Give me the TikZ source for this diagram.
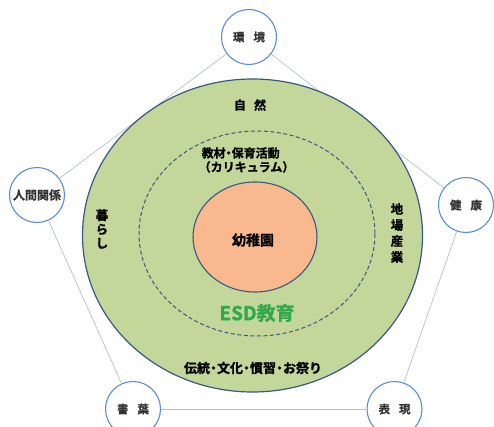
\documentclass[tikz,border=0pt]{standalone}
\usepackage{fontspec}
\setmainfont{Noto Sans CJK JP}
\newfontfamily\jpheavy{Noto Sans CJK JP Bold}[FakeBold=1.2]
\newfontfamily\jpbold{Noto Sans CJK JP Bold}[FakeBold=0.8]
\usetikzlibrary{shapes.geometric}
\definecolor{ringgreen}{HTML}{C4D79B}
\definecolor{ringedge}{HTML}{3B5783}
\definecolor{coreorange}{HTML}{F8B98E}
\definecolor{bubbleblue}{HTML}{5B8FD3}
\definecolor{linkgray}{HTML}{B4BFD2}
\definecolor{esdgreen}{HTML}{2FAA4B}
\definecolor{labelgray}{HTML}{333333}
\tikzset{
  bubble/.style={circle, draw=bubbleblue, line width=1.1pt, fill=white,
    minimum size=55pt, inner sep=0pt, font=\jpbold\fontsize{11.5}{13}\selectfont, text=labelgray},
  link/.style={draw=linkgray, line width=0.7pt},
  ringtext/.style={font=\jpheavy\fontsize{12}{15}\selectfont, text=black, inner sep=0pt},
}
\begin{document}
\begin{tikzpicture}[x=1pt,y=-1pt]
\useasboundingbox (0,0) rectangle (494,427);
\clip (0,0) rectangle (494,427);
% pentagon bubbles
\node[bubble] (kankyo) at (249,37) {環\hspace{9pt}境};
\node[bubble] (ningen) at (37,195) {\fontsize{12}{13}\selectfont 人間関係};
\node[bubble] (kenko) at (466,205) {健\hspace{9pt}康};
\node[bubble] (kotoba) at (133,409) {書\hspace{9pt}葉};
\node[bubble] (hyogen) at (394.5,409) {表\hspace{9pt}現};
\path[link] (kankyo) -- (ningen);
\path[link] (kankyo) -- (kenko);
\path[link] (ningen) -- (kotoba);
\path[link] (kenko) -- (hyogen);
\path[link] (kotoba) -- (hyogen);
% rings
\node[ellipse, draw=ringedge, line width=1.2pt, fill=ringgreen, minimum width=340pt, minimum height=313pt, inner sep=0pt] (outer) at (252.5,235.5) {};
\node[ellipse, draw=ringedge, dashed, dash pattern=on 4pt off 2.5pt, line width=1pt, minimum width=236pt, minimum height=205pt, inner sep=0pt] (inner) at (257,233.5) {};
\node[ellipse, draw=ringedge, line width=1.1pt, fill=coreorange, minimum width=124pt, minimum height=110pt, inner sep=0pt] (core) at (255,237) {};
% texts
\node[ringtext, font=\jpheavy\fontsize{14}{16}\selectfont] (yochien) at (253,240) {幼稚園};
\node[ringtext] (shizen) at (250,105) {自\hspace{8pt}然};
\node[ringtext, align=left] (kyozai) at (248,160) {教材\kern-3pt・\kern-3pt保育活動\\[-1pt]\hspace{-3pt}（カリキュラム）};
\node[ringtext, font=\jpheavy\fontsize{19}{21}\selectfont, text=esdgreen] (esd) at (257,313) {ESD教育};
\node[ringtext, font=\jpheavy\fontsize{13}{15}\selectfont] (dento) at (253,368) {伝統\kern-3pt・\kern-3pt文化\kern-3pt・\kern-3pt慣習\kern-3pt・\kern-3ptお祭り};
\node[ringtext, align=center, font=\jpheavy\fontsize{12.5}{14}\selectfont] (kurashi) at (102,229) {暮\\ら\\し};
\node[ringtext, align=center, font=\jpheavy\fontsize{12.5}{16}\selectfont] (jiba) at (397,233) {地\\場\\産\\業};
\end{tikzpicture}
\end{document}
